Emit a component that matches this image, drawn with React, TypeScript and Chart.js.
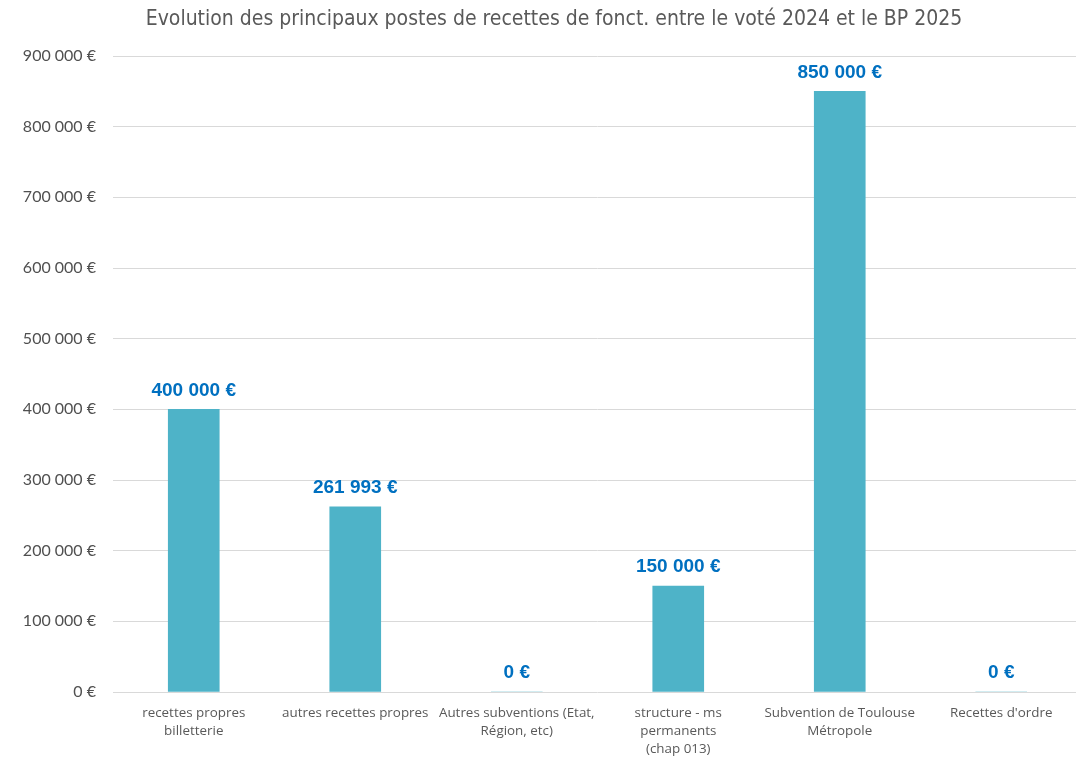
import React, { useEffect, useRef } from "react";
import { Chart, registerables } from "chart.js";

Chart.register(...registerables);

const chartTitle = "Evolution des principaux postes de recettes de fonct. entre le voté 2024 et le BP 2025";

const categories: string[][] = [
  ["recettes propres", "billetterie"],
  ["autres recettes propres"],
  ["Autres subventions (Etat,", "Région, etc)"],
  ["structure - ms", "permanents", "(chap 013)"],
  ["Subvention de Toulouse", "Métropole"],
  ["Recettes d'ordre"],
];

const values: number[] = [400000, 261993, 0, 150000, 850000, 0];

const yMin = 0;
const yMax = 900000;
const yStep = 100000;

const fmtEuro = (v: number) => {
  const s = Math.round(v).toString().replace(/\B(?=(\d{3})+(?!\d))/g, " ");
  return s + " €";
};

const titlePlugin = {
  id: "customTitle",
  afterDraw(chart: any) {
    const ctx = chart.ctx;
    ctx.save();
    ctx.font = "21px 'Liberation Sans Narrow', 'DejaVu Sans Condensed', sans-serif";
    ctx.fillStyle = "#595959";
    ctx.textAlign = "center";
    ctx.textBaseline = "middle";
    ctx.fillText(chartTitle, 554, 20);
    ctx.restore();
  },
};

const dataLabelPlugin = {
  id: "dataLabels",
  afterDatasetsDraw(chart: any) {
    const ctx = chart.ctx;
    const meta = chart.getDatasetMeta(0);
    ctx.save();
    ctx.font = "bold 19px 'Liberation Sans', Arial, sans-serif";
    ctx.fillStyle = "#0070C0";
    ctx.textAlign = "center";
    ctx.textBaseline = "middle";
    meta.data.forEach((el: any, i: number) => {
      ctx.fillText(fmtEuro(values[i]), el.x, el.y - 19);
    });
    ctx.restore();
  },
};

export default function App() {
  const ref = useRef<HTMLCanvasElement>(null);
  useEffect(() => {
    document.body.style.margin = "0";
    const chart = new Chart(ref.current!, {
      type: "bar",
      data: {
        labels: categories,
        datasets: [
          {
            data: values,
            backgroundColor: "#4EB3C8",
            barThickness: 51,
          },
        ],
      },
      options: {
        animation: false,
        responsive: false,
        layout: { padding: { top: 56, right: 0, bottom: 0, left: 0 } },
        plugins: {
          legend: { display: false },
          tooltip: { enabled: false },
          title: { display: false },
        },
        scales: {
          x: {
            afterFit: (s: any) => {
              s.height = 66;
            },
            grid: { display: false, drawTicks: false },
            border: { display: false },
            ticks: {
              color: "#595959",
              font: { family: "'Open Sans', sans-serif", size: 13.4, lineHeight: 18 / 13.4 },
              padding: 12,
              maxRotation: 0,
              autoSkip: false,
            },
          },
          y: {
            min: yMin,
            max: yMax,
            afterFit: (s: any) => {
              s.width = 113;
            },
            grid: { color: "#D9D9D9", drawTicks: false, lineWidth: 1 },
            border: { display: false },
            ticks: {
              stepSize: yStep,
              color: "#505050",
              padding: 17,
              font: { family: "Lato, 'Open Sans', sans-serif", size: 16 },
              callback: (v: any) => fmtEuro(Number(v)),
            },
          },
        },
      },
      plugins: [dataLabelPlugin, titlePlugin],
    });
    return () => chart.destroy();
  }, []);
  return (
    <div style={{ width: 1076, height: 758, overflow: "hidden", background: "#fff" }}>
      <canvas ref={ref} width={1082} height={758} style={{ display: "block" }} />
    </div>
  );
}
